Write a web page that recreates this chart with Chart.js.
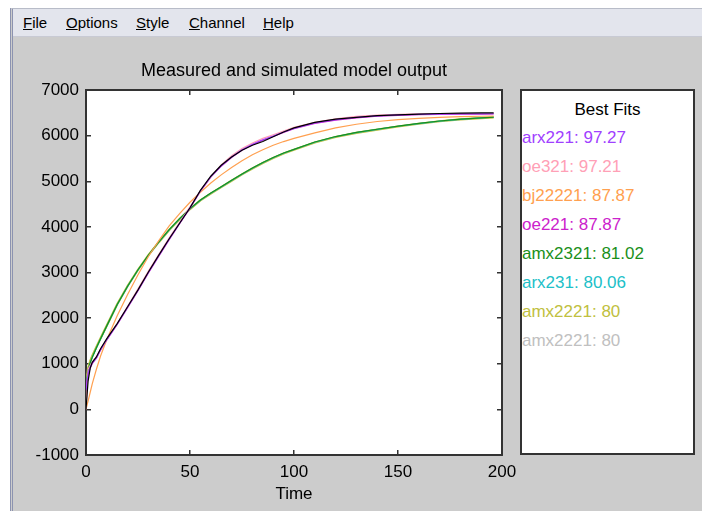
<!DOCTYPE html>
<html>
<head>
<meta charset="utf-8">
<script src="https://cdn.jsdelivr.net/npm/chart.js@4.4.1/dist/chart.umd.min.js"></script>
<style>
  html, body { margin: 0; padding: 0; width: 702px; height: 511px; overflow: hidden; background: #fff; font-family: "Liberation Sans", Arial, sans-serif; }
  #frame { position: absolute; left: 10px; top: 8px; width: 692px; height: 503px; background: #cccccc; border-left: 3px double #8c93b0; border-top: 1px solid #b8bcc8; box-sizing: border-box; }
  #menu { position: absolute; left: 13px; top: 9px; width: 689px; height: 27px; background: #e3e5ed; border-bottom: 1px solid #c8cad4; font-size: 15px; color: #000; }
  #menu span { position: absolute; top: 5px; }
  #plot { position: absolute; left: 0; top: 40px; }
  #fits { position: absolute; left: 520px; top: 89px; width: 175px; height: 366px; box-sizing: border-box; background: #fff; border: 2px solid #333; font-size: 17px; }
  #fits div { position: absolute; white-space: nowrap; line-height: 20px; }
</style>
</head>
<body>
<div id="frame"></div>
<div id="menu">
  <span style="left:10px"><u>F</u>ile</span>
  <span style="left:53px"><u>O</u>ptions</span>
  <span style="left:123px"><u>S</u>tyle</span>
  <span style="left:176px"><u>C</u>hannel</span>
  <span style="left:250px"><u>H</u>elp</span>
</div>
<canvas id="plot" width="520" height="471"></canvas>
<div id="fits"></div>
<script>
// sample times
const times = [0, 1, 2, 3, 5, 7, 10, 15, 20, 25, 30, 35, 40, 45, 50, 55, 60, 65, 70, 75, 80, 85, 90, 95, 100, 110, 120, 130, 140, 150, 160, 170, 180, 190, 196];

// measured output
const measured = [0, 620, 900, 1030, 1150, 1330, 1550, 1880, 2250, 2620, 3010, 3380, 3740, 4080, 4420, 4800, 5110, 5350, 5530, 5680, 5790, 5870, 5975, 6080, 6170, 6290, 6360, 6400, 6440, 6455, 6470, 6485, 6495, 6500, 6500];

// simulated model outputs
const arx221 = [420, 800, 930, 1020, 1130, 1310, 1530, 1870, 2240, 2610, 3000, 3370, 3730, 4080, 4420, 4790, 5100, 5340, 5530, 5690, 5810, 5910, 5990, 6080, 6160, 6280, 6350, 6400, 6435, 6455, 6465, 6470, 6475, 6478, 6480];
const oe321 = [0, 880, 960, 1040, 1150, 1320, 1540, 1880, 2260, 2640, 3030, 3400, 3760, 4100, 4440, 4790, 5100, 5360, 5560, 5720, 5840, 5940, 6020, 6100, 6180, 6290, 6370, 6420, 6450, 6468, 6475, 6480, 6482, 6484, 6485];
const bj22221 = [0, 180, 370, 560, 880, 1170, 1530, 2050, 2520, 2950, 3350, 3700, 4020, 4290, 4540, 4760, 4960, 5140, 5300, 5450, 5580, 5690, 5790, 5870, 5940, 6060, 6170, 6250, 6310, 6350, 6380, 6400, 6415, 6425, 6430];
const oe221 = [500, 760, 900, 1000, 1120, 1300, 1520, 1860, 2230, 2600, 2990, 3360, 3720, 4070, 4410, 4780, 5090, 5330, 5520, 5680, 5800, 5900, 5980, 6070, 6150, 6270, 6340, 6390, 6425, 6445, 6458, 6465, 6470, 6472, 6474];
const amx2321 = [480, 860, 1020, 1140, 1350, 1550, 1830, 2300, 2700, 3060, 3380, 3670, 3940, 4180, 4400, 4590, 4740, 4880, 5020, 5160, 5290, 5410, 5520, 5620, 5700, 5860, 5980, 6070, 6140, 6210, 6270, 6320, 6360, 6390, 6405];
const arx231 = [470, 850, 1010, 1135, 1345, 1545, 1825, 2295, 2695, 3055, 3375, 3665, 3935, 4175, 4395, 4585, 4735, 4875, 5015, 5155, 5285, 5405, 5515, 5615, 5695, 5855, 5975, 6065, 6135, 6205, 6265, 6318, 6358, 6388, 6403];
const amx2221 = [500, 900, 1060, 1170, 1370, 1560, 1840, 2305, 2705, 3060, 3380, 3665, 3930, 4170, 4390, 4580, 4730, 4870, 5010, 5150, 5280, 5400, 5510, 5610, 5690, 5850, 5970, 6060, 6130, 6200, 6260, 6315, 6355, 6385, 6400];
const amx2221b = [500, 900, 1060, 1170, 1370, 1560, 1840, 2305, 2705, 3060, 3380, 3665, 3930, 4170, 4390, 4580, 4730, 4870, 5010, 5150, 5280, 5400, 5510, 5610, 5690, 5850, 5970, 6060, 6130, 6200, 6260, 6315, 6355, 6385, 6400];

// best fits panel
const fitNames = ['arx221', 'oe321', 'bj22221', 'oe221', 'amx2321', 'arx231', 'amx2221', 'amx2221'];
const fitScores = [97.27, 97.21, 87.87, 87.87, 81.02, 80.06, 80, 80];
const fitColors = ['#a040ff', '#ffa0b6', '#ffa050', '#cc22cc', '#1a8f1a', '#20c0c8', '#c0c040', '#c0c0c0'];

const modelSeries = [arx221, oe321, bj22221, oe221, amx2321, arx231, amx2221, amx2221b];

const toPoints = vals => vals.map((v, i) => ({ x: times[i], y: v }));

const datasets = [{
  label: 'measured',
  data: toPoints(measured),
  borderColor: '#000',
  borderWidth: 1.2,
  order: 0
}].concat(modelSeries.map((vals, i) => ({
  label: fitNames[i],
  data: toPoints(vals),
  borderColor: fitColors[i],
  borderWidth: i === 6 ? 2.2 : 1.2,
  order: i + 1
})));

const plotBackground = {
  id: 'plotBackground',
  beforeDraw(chart) {
    const { ctx, chartArea: a } = chart;
    ctx.save();
    ctx.fillStyle = '#fff';
    ctx.fillRect(a.left, a.top, a.width, a.height);
    ctx.restore();
  }
};

const font = { family: '"Liberation Sans", Arial, sans-serif', size: 17 };
const axisGrid = { drawOnChartArea: false, tickLength: -5, color: '#333', lineWidth: 1.5 };
const axisBorder = { color: '#333', width: 2 };

// keep the plot box where the picture has it: no label overflow padding
const noPad = s => { s.paddingLeft = 0; s.paddingRight = 0; s.paddingTop = 0; s.paddingBottom = 0; };

new Chart(document.getElementById('plot'), {
  type: 'line',
  data: { datasets },
  options: {
    responsive: false,
    animation: false,
    devicePixelRatio: 1,
    elements: { point: { radius: 0 }, line: { tension: 0 } },
    layout: { padding: 0 },
    plugins: {
      legend: { display: false },
      tooltip: { enabled: false },
      title: {
        display: true,
        fullSize: false,
        text: 'Measured and simulated model output',
        color: '#000',
        font: { ...font, size: 18, weight: 'normal' },
        padding: { top: 20, bottom: 8.4 }
      }
    },
    scales: {
      x: {
        type: 'linear', position: 'bottom', min: 0, max: 200,
        ticks: { stepSize: 50, color: '#000', font, padding: 12, maxRotation: 0 },
        grid: axisGrid, border: axisBorder,
        title: { display: true, text: 'Time', color: '#000', font, padding: { top: 0, bottom: 6 } },
        afterFit: s => { s.height = 56; noPad(s); }
      },
      y: {
        type: 'linear', position: 'left', min: -1000, max: 7000,
        ticks: { stepSize: 1000, color: '#000', font, padding: 12, callback: v => String(v) },
        grid: axisGrid, border: axisBorder,
        afterFit: s => { s.width = 86; noPad(s); }
      },
      x2: {
        type: 'linear', position: 'top', min: 0, max: 200,
        ticks: { display: false, stepSize: 50 },
        grid: axisGrid, border: axisBorder,
        afterFit: s => { s.height = 0; noPad(s); }
      },
      y2: {
        type: 'linear', position: 'right', min: -1000, max: 7000,
        ticks: { display: false, stepSize: 1000 },
        grid: axisGrid, border: axisBorder,
        afterFit: s => { s.width = 18; noPad(s); }
      }
    }
  },
  plugins: [plotBackground]
});

// Best Fits panel text
const fits = document.getElementById('fits');
const head = document.createElement('div');
head.textContent = 'Best Fits';
head.style.cssText = 'left:0;width:171px;text-align:center;top:9px;color:#000';
fits.appendChild(head);
fitNames.forEach((name, i) => {
  const d = document.createElement('div');
  d.textContent = name + ': ' + String(fitScores[i]);
  d.style.cssText = 'left:0;top:' + (37 + i * 29) + 'px;color:' + fitColors[i];
  fits.appendChild(d);
});
</script>
</body>
</html>
